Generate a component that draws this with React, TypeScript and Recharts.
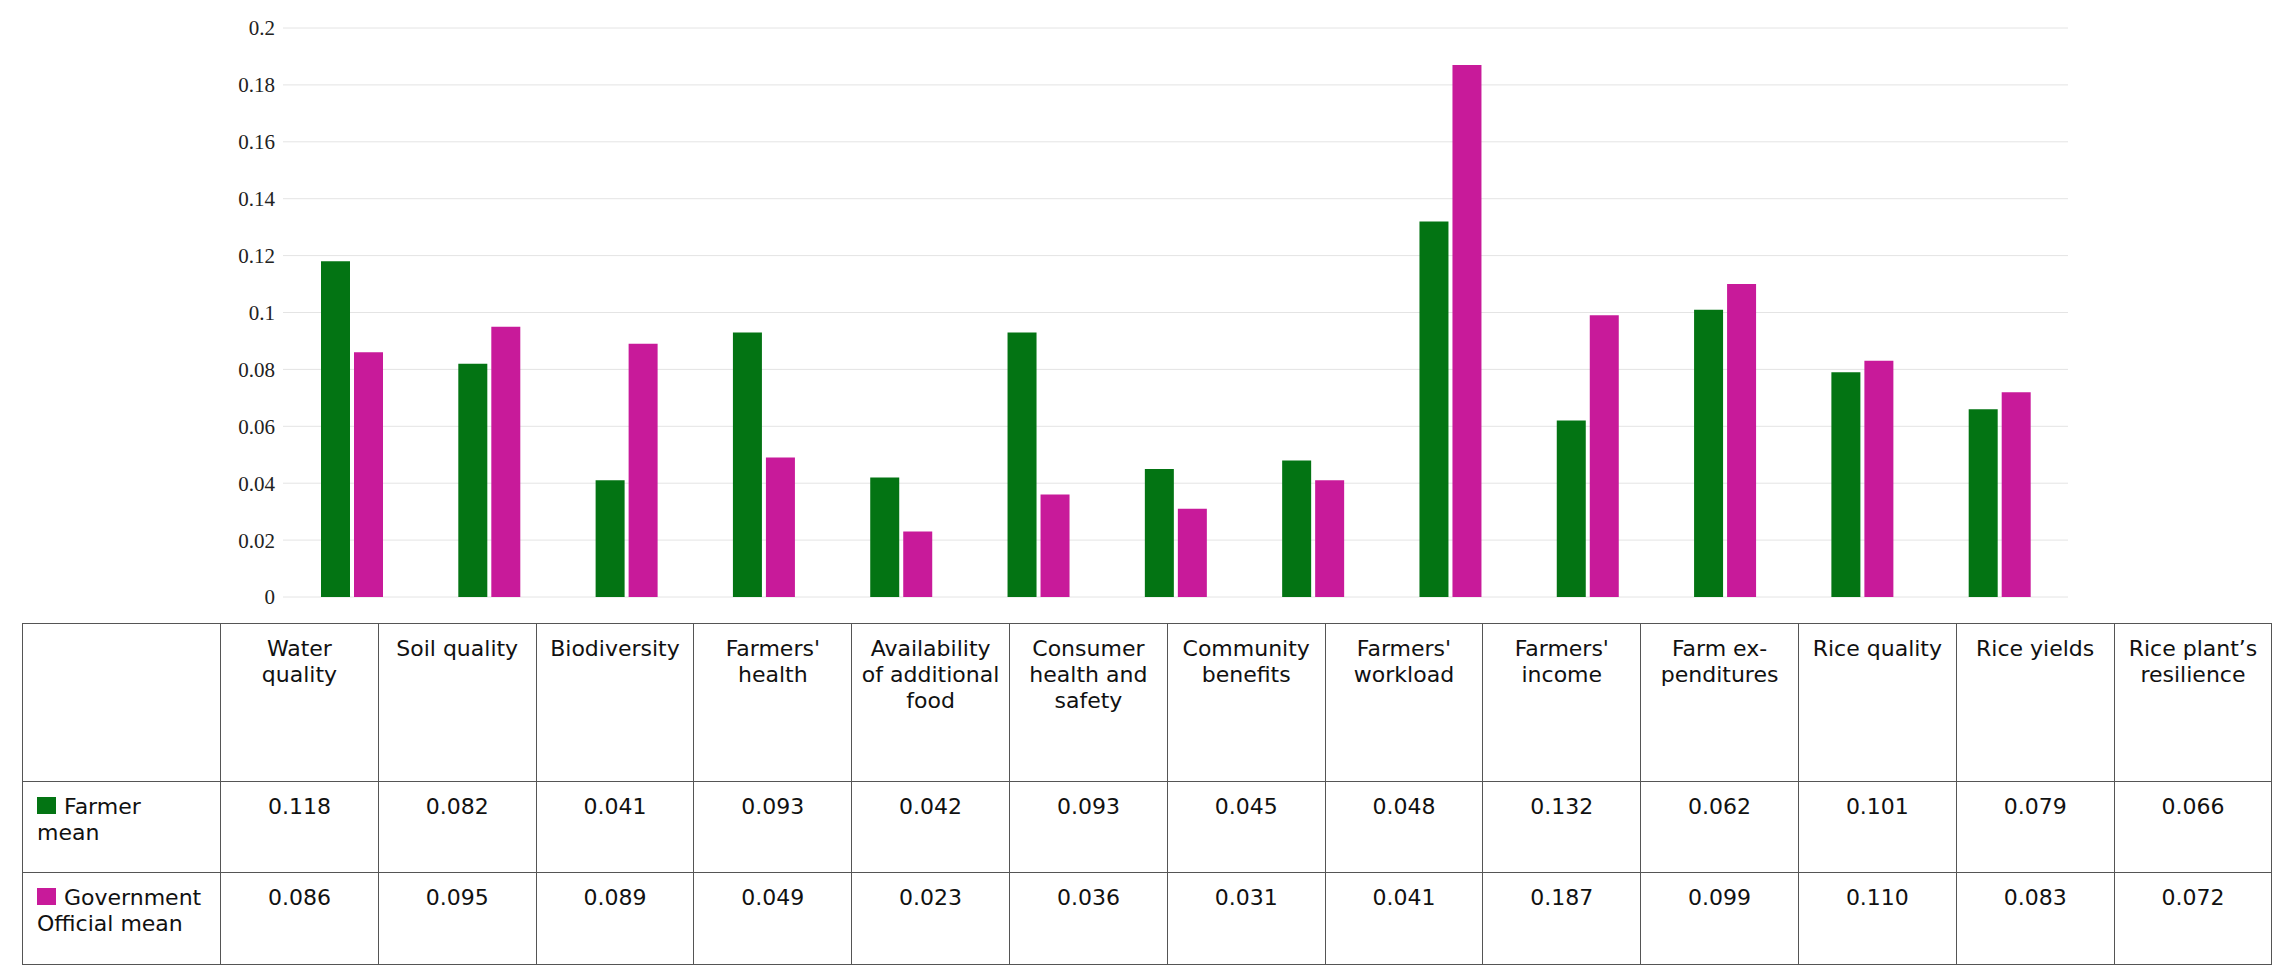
import React from 'react'
import { BarChart, Bar, XAxis, YAxis, CartesianGrid } from 'recharts'

const categories = [
    'Water quality', 'Soil quality', 'Biodiversity', "Farmers' health", 'Availability of additional food',
    'Consumer health and safety', 'Community benefits', "Farmers' workload", "Farmers' income",
    'Farm ex\u00ADpenditures', 'Rice quality', 'Rice yields', 'Rice plant\u2019s resilience',
]
const farmerMean = [0.118, 0.082, 0.041, 0.093, 0.042, 0.093, 0.045, 0.048, 0.132, 0.062, 0.101, 0.079, 0.066]
const officialMean = [0.086, 0.095, 0.089, 0.049, 0.023, 0.036, 0.031, 0.041, 0.187, 0.099, 0.110, 0.083, 0.072]
const yTicks = [0, 0.02, 0.04, 0.06, 0.08, 0.1, 0.12, 0.14, 0.16, 0.18, 0.2]

const GREEN = '#037413'
const MAGENTA = '#c81a9a'

const data = categories.map((c, i) => ({ name: c, farmer: farmerMean[i], official: officialMean[i] }))

const cell: React.CSSProperties = {
    border: '1.5px solid #555',
    verticalAlign: 'top',
    textAlign: 'center',
    padding: '12px 8px 0',
    fontSize: 22,
    lineHeight: '26px',
}

const swatch = (color: string) => (
    <span style={{ display: 'inline-block', width: 19, height: 17, background: color, marginRight: 8, verticalAlign: '0px' }} />
)

export default function App() {
    return (
        <div style={{ position: 'absolute', left: 0, top: 0, width: 2292, height: 974, background: '#fff' }}>
            <BarChart width={2292} height={620} data={data} margin={{ top: 28, right: 224, bottom: 23, left: 223 }} barSize={29} barGap={4}>
                <CartesianGrid vertical={false} stroke='#e4e4e4' />
                <XAxis dataKey='name' hide />
                <YAxis
                    width={60}
                    domain={[0, 0.2]}
                    ticks={yTicks}
                    axisLine={false}
                    tickLine={false}
                    tickMargin={2}
                    tick={{ fontFamily: 'Liberation Serif', fontSize: 21, fill: '#222' }}
                />
                <Bar dataKey='farmer' fill={GREEN} isAnimationActive={false} />
                <Bar dataKey='official' fill={MAGENTA} isAnimationActive={false} />
            </BarChart>
            <table
                style={{
                    position: 'absolute', left: 22, top: 623, width: 2250, borderCollapse: 'collapse',
                    tableLayout: 'fixed', fontFamily: 'DejaVu Sans', color: '#111',
                }}
            >
                <colgroup>
                    <col style={{ width: 198 }} />
                    {categories.map((c) => <col key={c} style={{ width: 157.8 }} />)}
                </colgroup>
                <tbody>
                    <tr style={{ height: 158 }}>
                        <td style={cell} />
                        {categories.map((c) => <td key={c} style={{ ...cell, hyphens: 'manual' }}>{c}</td>)}
                    </tr>
                    <tr style={{ height: 91 }}>
                        <td style={{ ...cell, textAlign: 'left', paddingLeft: 14, paddingRight: 40 }}>{swatch(GREEN)}Farmer mean</td>
                        {farmerMean.map((v, i) => <td key={i} style={cell}>{v.toFixed(3)}</td>)}
                    </tr>
                    <tr style={{ height: 92 }}>
                        <td style={{ ...cell, textAlign: 'left', paddingLeft: 14, paddingRight: 2 }}>{swatch(MAGENTA)}Government Official mean</td>
                        {officialMean.map((v, i) => <td key={i} style={cell}>{v.toFixed(3)}</td>)}
                    </tr>
                </tbody>
            </table>
        </div>
    )
}
